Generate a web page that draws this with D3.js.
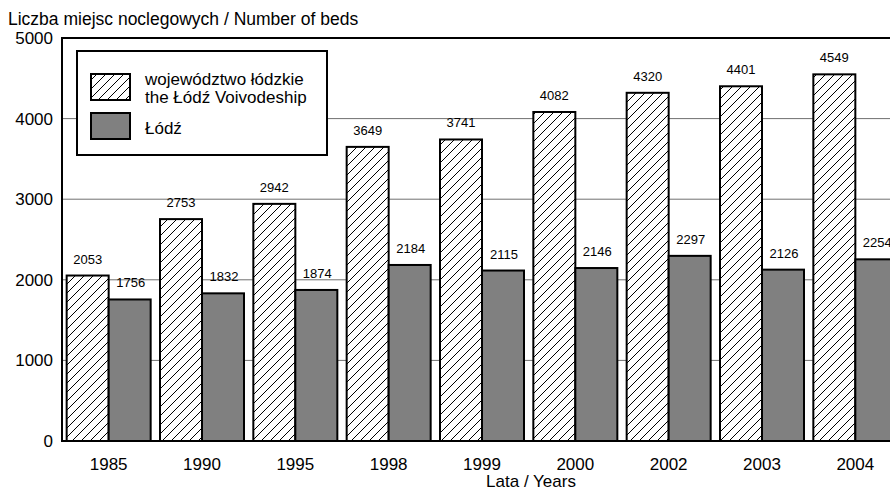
<!DOCTYPE html>
<html><head><meta charset="utf-8">
<script src="https://cdn.jsdelivr.net/npm/d3@7"></script>
<style>body{margin:0;background:#fff}svg{display:block;font-family:"Liberation Sans",Arial,sans-serif}</style>
</head><body><svg id="c" width="890" height="490"></svg>
<script>
const years = ["1985","1990","1995","1998","1999","2000","2002","2003","2004"];
const voivodeship = [2053,2753,2942,3649,3741,4082,4320,4401,4549];
const lodz = [1756,1832,1874,2184,2115,2146,2297,2126,2254];
const yTicks = [0,1000,2000,3000,4000,5000];
const seriesNames = [["województwo łódzkie","the Łódź Voivodeship"],["Łódź"]];

const svg = d3.select("#c");
const m = {l:62, t:38, b:441};
const plotW = 840;
const x = d3.scaleBand().domain(years).range([m.l, m.l+plotW]).paddingInner(0.1).paddingOuter(0.05);
const y = d3.scaleLinear().domain([0,5000]).range([m.b, m.t]);

const defs = svg.append("defs");
const P = 9;
const pat = defs.append("pattern").attr("id","hatch").attr("patternUnits","userSpaceOnUse")
  .attr("width",P).attr("height",P);
pat.append("rect").attr("width",P).attr("height",P).attr("fill","#fff");
pat.append("path").attr("d",`M-2,2 L2,-2 M0,${P} L${P},0 M${P-2},${P+2} L${P+2},${P-2}`).attr("stroke","#000").attr("stroke-width",1);

// gridlines
svg.append("g").selectAll("line").data(yTicks.filter(d=>d>0 && d<5000)).join("line")
  .attr("x1",m.l).attr("x2",m.l+plotW).attr("y1",d=>y(d)).attr("y2",d=>y(d))
  .attr("stroke","#707070").attr("stroke-width",1);

// frame top
svg.append("line").attr("x1",m.l).attr("x2",m.l+plotW).attr("y1",y(5000)).attr("y2",y(5000)).attr("stroke","#000").attr("stroke-width",2);

const bw = x.bandwidth()/2;
const g = svg.append("g");
g.selectAll(".v").data(years).join("rect")
  .attr("x",d=>x(d)).attr("width",bw)
  .attr("y",(d,i)=>y(voivodeship[i])).attr("height",(d,i)=>y(0)-y(voivodeship[i]))
  .attr("fill","url(#hatch)").attr("stroke","#000").attr("stroke-width",2);
g.selectAll(".l").data(years).join("rect")
  .attr("x",d=>x(d)+bw).attr("width",bw)
  .attr("y",(d,i)=>y(lodz[i])).attr("height",(d,i)=>y(0)-y(lodz[i]))
  .attr("fill","#808080").attr("stroke","#000").attr("stroke-width",2);

// value labels
g.selectAll(".tv").data(years).join("text")
  .attr("x",d=>x(d)+bw/2).attr("y",(d,i)=>y(voivodeship[i])-12)
  .attr("text-anchor","middle").attr("font-size",13).text((d,i)=>voivodeship[i]);
g.selectAll(".tl").data(years).join("text")
  .attr("x",d=>x(d)+bw*1.5+1).attr("y",(d,i)=>y(lodz[i])-12)
  .attr("text-anchor","middle").attr("font-size",13).text((d,i)=>lodz[i]);

// axes
svg.append("line").attr("x1",m.l).attr("x2",m.l).attr("y1",y(5000)-1).attr("y2",y(0)+1).attr("stroke","#000").attr("stroke-width",2);
svg.append("line").attr("x1",m.l).attr("x2",m.l+plotW).attr("y1",y(0)).attr("y2",y(0)).attr("stroke","#000").attr("stroke-width",2);

svg.append("g").selectAll("text").data(yTicks).join("text")
  .attr("x",53).attr("y",d=>y(d)+6).attr("text-anchor","end").attr("font-size",17).text(d=>d);
svg.append("g").selectAll("text").data(years).join("text")
  .attr("x",d=>x(d)+x.bandwidth()/2).attr("y",470).attr("text-anchor","middle").attr("font-size",17).text(d=>d);

svg.append("text").attr("x",8).attr("y",25).attr("font-size",17.5).text("Liczba miejsc noclegowych / Number of beds");
svg.append("text").attr("x",531).attr("y",487).attr("text-anchor","middle").attr("font-size",17).text("Lata / Years");

// legend
const lg = svg.append("g");
lg.append("rect").attr("x",77).attr("y",51).attr("width",250).attr("height",104).attr("fill","#fff").attr("stroke","#000").attr("stroke-width",2);
lg.append("rect").attr("x",91).attr("y",74).attr("width",39).attr("height",26).attr("fill","url(#hatch)").attr("stroke","#000").attr("stroke-width",2);
lg.append("rect").attr("x",91).attr("y",113).attr("width",39).attr("height",26).attr("fill","#808080").attr("stroke","#000").attr("stroke-width",2);
lg.append("text").attr("x",145).attr("y",85).attr("font-size",17).text(seriesNames[0][0]);
lg.append("text").attr("x",145).attr("y",103).attr("font-size",17).text(seriesNames[0][1]);
lg.append("text").attr("x",145).attr("y",134).attr("font-size",17).text(seriesNames[1][0]);
</script></body></html>
